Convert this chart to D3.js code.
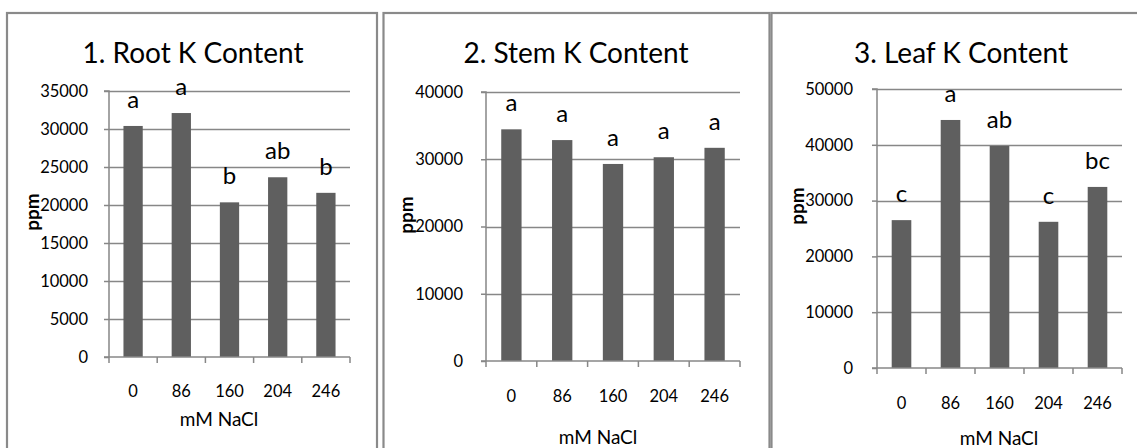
<!DOCTYPE html>
<html>
<head>
<meta charset="utf-8">
<script src="https://cdn.jsdelivr.net/npm/d3@7"></script>
<style>
  html, body { margin: 0; padding: 0; background: #fff; }
  svg { display: block; font-family: Lato, "Open Sans", sans-serif; }
</style>
</head>
<body>
<svg id="chart" width="1137" height="448"></svg>
<script>
// NaCl treatments (mM) shared by all three panels
const doses = ["0", "86", "160", "204", "246"];

// Potassium content (ppm) per tissue
const rootK = [30400, 32100, 20350, 23650, 21600];
const stemK = [34450, 32850, 29300, 30300, 31700];
const leafK = [26500, 44450, 39800, 26200, 32450];

// Mean-separation letters above each bar
const rootLetters = ["a", "a", "b", "ab", "b"];
const stemLetters = ["a", "a", "a", "a", "a"];
const leafLetters = ["c", "a", "ab", "c", "bc"];

// Value-axis tick labels
const rootTicks = [0, 5000, 10000, 15000, 20000, 25000, 30000, 35000];
const stemTicks = [0, 10000, 20000, 30000, 40000];
const leafTicks = [0, 10000, 20000, 30000, 40000, 50000];

const titles = ["1. Root K Content", "2. Stem K Content", "3. Leaf K Content"];

// Panel geometry (pixels)
const panels = [
  { values: rootK, letters: rootLetters, ticks: rootTicks, title: titles[0],
    box: { x: 7, w: 370 }, plot: { left: 109, right: 350, top: 91, bottom: 357 },
    titleX: 193, yTitle: { x: 39, y: 212 }, xTitle: { x: 219, y: 426 }, yGap: 16, xGap: 28 },
  { values: stemK, letters: stemLetters, ticks: stemTicks, title: titles[1],
    box: { x: 383.5, w: 386 }, plot: { left: 486, right: 740, top: 92, bottom: 361 },
    titleX: 576, yTitle: { x: 413, y: 215 }, xTitle: { x: 598, y: 444 }, yGap: 18, xGap: 29 },
  { values: leafK, letters: leafLetters, ticks: leafTicks, title: titles[2],
    box: { x: 771.5, w: 420 }, plot: { left: 877, right: 1122, top: 89, bottom: 368 },
    titleX: 961, yTitle: { x: 803.5, y: 206 }, xTitle: { x: 999, y: 445 }, yGap: 19, xGap: 29 }
];

const BAR = "#5f5f5f";
const LINE = "#878787";
const FRAME = "#8a8a8a";
const TICK_FONT = 16.5;

const svg = d3.select("#chart");

panels.forEach(p => {
  const g = svg.append("g");

  // chart-area frame
  g.append("rect")
    .attr("x", p.box.x).attr("y", 13)
    .attr("width", p.box.w).attr("height", 480)
    .attr("fill", "none").attr("stroke", FRAME).attr("stroke-width", 2.2);

  const yMax = p.ticks[p.ticks.length - 1];
  const y = d3.scaleLinear().domain([0, yMax]).range([p.plot.bottom, p.plot.top]);
  const x = d3.scaleBand().domain(doses)
    .range([p.plot.left, p.plot.right])
    .paddingInner(0.6).paddingOuter(0.3);
  const step = x.step();

  // horizontal gridlines
  g.append("g").selectAll("line").data(p.ticks.filter(t => t > 0)).join("line")
    .attr("x1", p.plot.left).attr("x2", p.plot.right)
    .attr("y1", d => Math.round(y(d)) + 0.5).attr("y2", d => Math.round(y(d)) + 0.5)
    .attr("stroke", LINE).attr("stroke-width", 1.5);

  // bars
  g.append("g").selectAll("rect").data(p.values).join("rect")
    .attr("x", (d, i) => x(doses[i]))
    .attr("width", x.bandwidth())
    .attr("y", d => y(d))
    .attr("height", d => y(0) - y(d))
    .attr("fill", BAR);

  // value axis
  const ya = g.append("g")
    .attr("transform", `translate(${p.plot.left},0)`)
    .call(d3.axisLeft(y).tickValues(p.ticks).tickSize(5).tickPadding(p.yGap).tickFormat(d3.format("d")));
  ya.select(".domain").attr("stroke", LINE).attr("stroke-width", 1.5)
    .attr("d", `M-5,${y(yMax)}H0V${y(0)}`);
  ya.selectAll(".tick line").attr("stroke", LINE).attr("stroke-width", 1.5);
  ya.selectAll(".tick text").attr("font-size", TICK_FONT).attr("fill", "#000")
    .attr("font-family", "Lato, sans-serif");

  // category axis
  const xa = g.append("g")
    .attr("transform", `translate(0,${p.plot.bottom})`)
    .call(d3.axisBottom(x).tickSize(0).tickPadding(p.xGap));
  xa.select(".domain").remove();
  xa.selectAll(".tick text").attr("font-size", TICK_FONT).attr("fill", "#000")
    .attr("font-family", "Lato, sans-serif");

  // baseline and category boundary tick marks
  g.append("line")
    .attr("x1", p.plot.left - 5).attr("x2", p.plot.right)
    .attr("y1", y(0)).attr("y2", y(0))
    .attr("stroke", LINE).attr("stroke-width", 1.5);
  g.append("g").selectAll("line").data(d3.range(doses.length + 1)).join("line")
    .attr("x1", i => p.plot.left + i * step).attr("x2", i => p.plot.left + i * step)
    .attr("y1", y(0)).attr("y2", y(0) + 6)
    .attr("stroke", LINE).attr("stroke-width", 1.5);

  // significance letters
  g.append("g").selectAll("text").data(p.values).join("text")
    .attr("x", (d, i) => x(doses[i]) + x.bandwidth() / 2)
    .attr("y", d => y(d) - 18)
    .attr("text-anchor", "middle")
    .attr("font-size", 24)
    .attr("fill", "#000")
    .text((d, i) => p.letters[i]);

  // chart title
  g.append("text")
    .attr("x", p.titleX).attr("y", 63)
    .attr("text-anchor", "middle")
    .attr("font-size", 28)
    .attr("fill", "#000")
    .text(p.title);

  // axis titles
  g.append("text")
    .attr("transform", `translate(${p.yTitle.x},${p.yTitle.y}) rotate(-90)`)
    .attr("text-anchor", "middle")
    .attr("font-size", 19).attr("font-weight", "bold")
    .attr("fill", "#000")
    .text("ppm");
  g.append("text")
    .attr("x", p.xTitle.x).attr("y", p.xTitle.y)
    .attr("text-anchor", "middle")
    .attr("font-size", 19)
    .attr("fill", "#000")
    .text("mM NaCl");
});
</script>
</body>
</html>
